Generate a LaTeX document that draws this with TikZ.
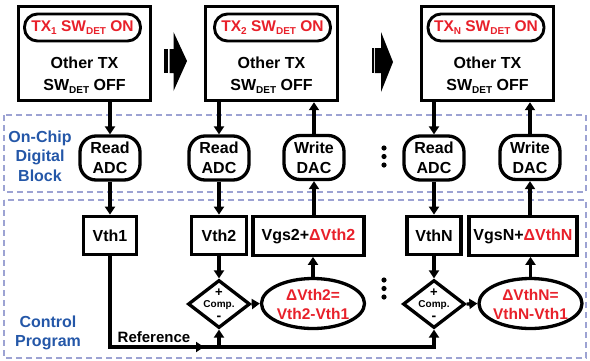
\documentclass[tikz,border=0pt]{standalone}
\usepackage{fontspec}
\setmainfont{Liberation Sans}
\usetikzlibrary{arrows.meta,shapes.geometric}
\definecolor{myred}{HTML}{E8202A}
\definecolor{myblue}{HTML}{2457A8}
\definecolor{dashc}{HTML}{9DA3D3}
\newcommand\subx[1]{\raisebox{-0.35ex}{\fontsize{10}{10}\selectfont #1}}
\begin{document}
\begin{tikzpicture}[x=1pt,y=-1pt,
  font=\bfseries\fontsize{16}{19}\selectfont,
  line width=3.3pt,
  >={Triangle[length=8pt,width=10pt]},
  tbox/.style={draw, line width=3.4pt, minimum width=132pt, minimum height=94pt, inner sep=0pt},
  pill/.style={draw, line width=2.9pt, rounded corners=13pt, minimum width=116pt, minimum height=27pt, inner sep=0pt, text=myred, font=\bfseries\fontsize{15.5}{18}\selectfont},
  otext/.style={align=center, inner sep=0pt, font=\bfseries\fontsize{16}{22}\selectfont},
  rbox/.style={draw, line width=3.3pt, rounded corners=16pt, minimum width=60pt, minimum height=44pt, align=center, inner sep=0pt, font=\bfseries\fontsize{16}{20}\selectfont},
  vbox/.style={draw, line width=3.3pt, minimum height=38.5pt, inner sep=0pt},
  ell/.style={draw, line width=3.3pt, ellipse, minimum width=103pt, minimum height=50pt, inner sep=0pt},
  etext/.style={align=center, inner sep=0pt, text=myred, font=\bfseries\fontsize{15.5}{18.5}\selectfont},
  cmp/.style={draw, line width=3.3pt, diamond, minimum width=62pt, minimum height=48pt, inner sep=0pt},
  dashbox/.style={draw=dashc, line width=2pt, dash pattern=on 6pt off 4pt},
  blue/.style={align=center, inner sep=0pt, text=myblue, font=\bfseries\fontsize{16}{19.5}\selectfont},
  dotc/.style={fill=black, draw=none}
]
\useasboundingbox (0,0) rectangle (590,360);
% dashed regions
\draw[dashbox] (4,115) rectangle (586,192);
\draw[dashbox] (4,200) rectangle (586,358);
\node[blue] (lab1) at (40,156) {On-Chip\\Digital\\Block};
\node[blue] (lab2) at (48,333) {Control\\Program};

% top boxes
\node[tbox] (b1) at (84.5,53.5) {};
\node[tbox] (b2) at (271.5,53.5) {};
\node[tbox] (b3) at (487.5,53.5) {};
\node[pill] (p1) at (82.5,27.5) {TX\subx{1} SW\subx{DET} ON};
\node[pill] (p2) at (272.5,27.5) {TX\subx{2} SW\subx{DET} ON};
\node[pill] (p3) at (486,27.5) {TX\subx{N} SW\subx{DET} ON};
\node[otext] (o1) at (84.5,75) {Other TX\\SW\subx{DET} OFF};
\node[otext] (o2) at (271.5,75) {Other TX\\SW\subx{DET} OFF};
\node[otext] (o3) at (487.5,75) {Other TX\\SW\subx{DET} OFF};

% block arrows
\fill (163.5,49) rectangle (168,73);
\fill (169.5,49) -- (173.5,49) -- (173.5,32) -- (187,61) -- (173.5,91) -- (173.5,73) -- (169.5,73) -- cycle;
\fill (372,48) rectangle (373.5,73);
\fill (374.8,48) -- (381,48) -- (381,32) -- (393,62) -- (381,92) -- (381,73) -- (374.8,73) -- cycle;

% digital block
\node[rbox] (r1) at (110,158) {Read\\ADC};
\node[rbox] (r2) at (219,158) {Read\\ADC};
\node[rbox] (w2) at (314,157.5) {Write\\DAC};
\node[rbox] (r3) at (434,158) {Read\\ADC};
\node[rbox] (w3) at (530,157.5) {Write\\DAC};
\foreach \yy in {148,156.5,165}{\fill[dotc] (384,\yy) circle (2.6pt);}

% control program
\node[vbox, minimum width=53pt] (v1) at (110,235.5) {Vth1};
\node[vbox, minimum width=55pt] (v2) at (219,235.5) {Vth2};
\node[vbox, minimum width=111pt] (g2) at (308.5,236) {Vgs2+\textcolor{myred}{ΔVth2}};
\node[vbox, minimum width=54pt] (v3) at (434,235.5) {VthN};
\node[vbox, minimum width=108pt] (g3) at (523,236) {VgsN+\textcolor{myred}{ΔVthN}};

\node[cmp] (c2) at (219,304) {};
\node[cmp] (c3) at (434,304) {};
\foreach \c in {c2,c3}{
  \node[inner sep=0pt, font=\bfseries\fontsize{10}{12}\selectfont] at ([yshift=-1pt]\c.center) {Comp.};
  \node[inner sep=0pt, font=\bfseries\fontsize{13}{13}\selectfont] at ([yshift=11.5pt]\c.center) {+};
  \node[inner sep=0pt, font=\bfseries\fontsize{14}{14}\selectfont] at ([yshift=-14pt]\c.center) {-};
}
\node[ell] (e2) at (313,303.5) {};
\node[etext] at (313,304.5) {ΔVth2=\\Vth2-Vth1};
\node[ell] (e3) at (530.5,303.5) {};
\node[etext] at (530.5,304.5) {ΔVthN=\\VthN-Vth1};
\foreach \yy in {280,288.5,297}{\fill[dotc] (384,\yy) circle (2.6pt);}

% connectors
\draw[->] (r1.north |- b1.south) -- (r1.north);
\draw[->] (r1.south) -- (v1.north);
\draw[->] (r2.north |- b2.south) -- (r2.north);
\draw[->] (r2.south) -- (v2.north);
\draw[->] (v2.south) -- (c2.north);
\draw[->] (c2.east) -- (e2.west);
\draw[->] (e2.north) -- (e2.north |- g2.south);
\draw[->] (w2.south |- g2.north) -- (w2.south);
\draw[->] (w2.north) -- (w2.north |- b2.south);
\draw[->] (r3.north |- b3.south) -- (r3.north);
\draw[->] (r3.south) -- (v3.north);
\draw[->] (v3.south) -- (c3.north);
\draw[->] (c3.east) -- (e3.west);
\draw[->] (e3.north) -- (e3.north |- g3.south);
\draw[->] (w3.south |- g3.north) -- (w3.south);
\draw[->] (w3.north) -- (w3.north |- b3.south);

\coordinate (rc) at (110,347);
\coordinate (ra) at (204,347);
\draw[->] (v1.south) |- (c3.south |- rc) -- (c3.south);
\draw[->] (c2.south |- rc) -- (c2.south);
\draw[->] (rc) -- (ra);
\node[inner sep=0pt, anchor=base, font=\bfseries\fontsize{15}{17}\selectfont] (reflab) at (154,342) {Reference};
\end{tikzpicture}
\end{document}
